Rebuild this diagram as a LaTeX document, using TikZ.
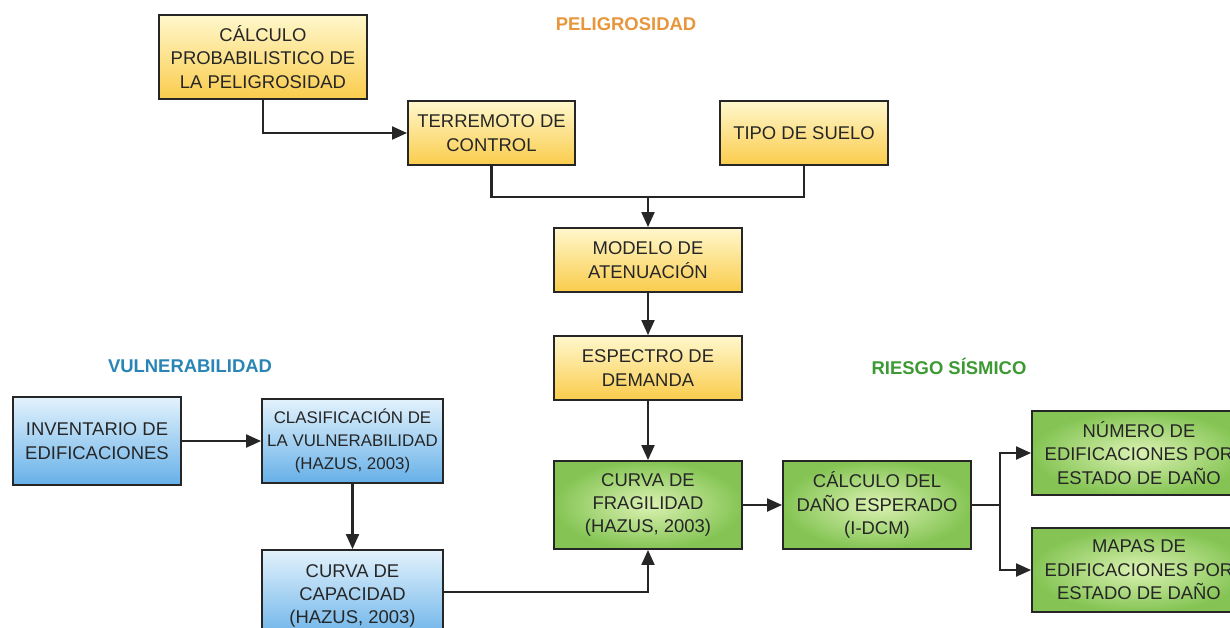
\documentclass[tikz,border=0pt]{standalone}
\usepackage{fontspec}
\setmainfont{Liberation Sans}
\usepackage{tikz}
\usetikzlibrary{arrows.meta,calc,positioning}
\definecolor{amber1}{rgb}{1.00,0.97,0.80}
\definecolor{amber2}{rgb}{0.98,0.80,0.30}
\definecolor{sky1}{rgb}{0.89,0.95,0.99}
\definecolor{sky2}{rgb}{0.40,0.69,0.91}
\definecolor{lime1}{rgb}{0.86,0.95,0.70}
\definecolor{lime2}{rgb}{0.52,0.77,0.33}
\definecolor{peliorange}{rgb}{0.91,0.59,0.23}
\definecolor{vulnblue}{rgb}{0.16,0.52,0.71}
\definecolor{riskgreen}{rgb}{0.24,0.60,0.20}

\tikzset{
  box/.style={draw=black!85, line width=1.1pt, align=center, inner sep=2pt,
    font=\fontsize{10.5}{13.3}\selectfont, text=black!85},
  peli/.style={box, top color=amber1, bottom color=amber2},
  vuln/.style={box, top color=sky1, bottom color=sky2},
  risk/.style={box, shading=radial, inner color=lime1, outer color=lime2},
  title/.style={font=\fontsize{10.5}{13}\selectfont\bfseries},
  link/.style={line width=1.2pt, black!85},
  arr/.style={link, -{Triangle[length=3mm,width=2.6mm]}}
}

\begin{document}
\begin{tikzpicture}[x=0.02cm, y=-0.02cm]
  \fill[white] (0,0) rectangle (1230,627);
  \useasboundingbox (0,0) rectangle (1230,627);

  % titles
  \node[title, peliorange] (tpeli) at (626,24) {PELIGROSIDAD};
  \node[title, vulnblue] (tvuln) at (190,366) {VULNERABILIDAD};
  \node[title, riskgreen] (trisk) at (949,366) {RIESGO SÍSMICO};

  % peligrosidad
  \node[peli, minimum width=4.16cm, minimum height=1.68cm] (calc) at (263,57)
    {CÁLCULO\\PROBABILISTICO DE\\LA PELIGROSIDAD};
  \node[peli, minimum width=3.34cm, minimum height=1.28cm] (terr) at (491.5,133)
    {TERREMOTO DE\\CONTROL};
  \node[peli, minimum width=3.36cm, minimum height=1.28cm] (tipo) at (804,133)
    {TIPO DE SUELO};
  \node[peli, minimum width=3.76cm, minimum height=1.28cm] (mod) at (648,260)
    {MODELO DE\\ATENUACIÓN};
  \node[peli, minimum width=3.76cm, minimum height=1.28cm] (esp) at (648,368)
    {ESPECTRO DE\\DEMANDA};

  % vulnerabilidad
  \node[vuln, minimum width=3.36cm, minimum height=1.76cm] (inv) at (97,441)
    {INVENTARIO DE\\EDIFICACIONES};
  \node[vuln, minimum width=3.62cm, minimum height=1.68cm, inner xsep=0pt,
    font=\fontsize{9.6}{13.3}\selectfont] (clas) at (352.5,441)
    {CLASIFICACIÓN DE\\LA VULNERABILIDAD\\(HAZUS, 2003)};
  \node[vuln, minimum width=3.62cm, minimum height=1.84cm] (cap) at (352.5,596)
    {CURVA DE\\CAPACIDAD\\(HAZUS, 2003)};

  % riesgo
  \node[risk, minimum width=3.76cm, minimum height=1.76cm] (frag) at (648,505)
    {CURVA DE\\FRAGILIDAD\\(HAZUS, 2003)};
  \node[risk, minimum width=3.76cm, minimum height=1.76cm] (dano) at (877,505)
    {CÁLCULO DEL\\DAÑO ESPERADO\\(I-DCM)};
  \node[risk, minimum width=4.28cm, minimum height=1.68cm] (num) at (1139,453)
    {NÚMERO DE\\EDIFICACIONES POR\\ESTADO DE DAÑO};
  \node[risk, minimum width=4.28cm, minimum height=1.68cm] (map) at (1139,570)
    {MAPAS DE\\EDIFICACIONES POR\\ESTADO DE DAÑO};

  \coordinate (join) at (648,197);
  \coordinate (split) at (1000,505);

  % connectors
  \draw[arr] (calc.south) |- (terr.west);
  \draw[link] (terr.south) |- (join);
  \draw[link] (tipo.south) |- (join);
  \draw[arr] (join) -- (mod.north);
  \draw[arr] (mod) -- (esp);
  \draw[arr] (esp) -- (frag);
  \draw[arr] (inv) -- (clas);
  \draw[arr] (clas) -- (cap);
  \draw[arr] ([yshift=0.08cm]cap.east) -| (frag.south);
  \draw[arr] (frag) -- (dano);
  \draw[link] (dano.east) -- (split);
  \draw[arr] (split) |- (num.west);
  \draw[arr] (split) |- (map.west);
\end{tikzpicture}
\end{document}
